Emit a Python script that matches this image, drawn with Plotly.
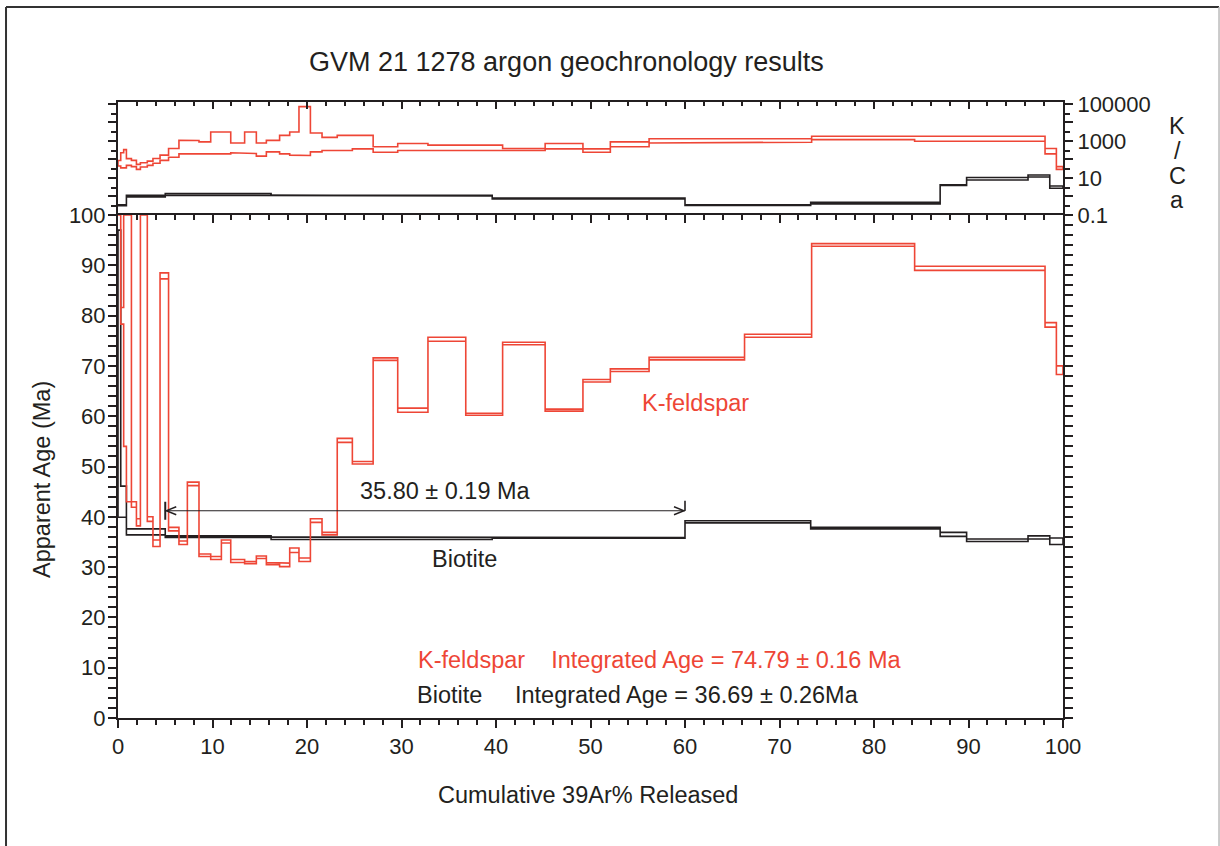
import numpy as np
import plotly.graph_objects as go

# ---------------- data ----------------
# K-feldspar step edges (cumulative 39Ar %)
kf_edges = [0, 0.29, 0.6, 0.89, 1.42, 1.95, 2.37, 3.1, 3.7, 4.45, 5.35, 6.45, 7.34, 8.57,
            9.81, 10.94, 11.93, 13.4, 14.64, 15.7, 17.1, 18.17, 19.15, 20.36, 21.59, 23.2,
            24.8, 27.0, 29.6, 32.8, 36.8, 40.7, 45.2, 49.2, 52.1, 56.2, 66.3, 73.4, 84.3,
            98.1, 99.3, 100]
# apparent age envelope (Ma), lower and upper
kf_age_lo = [101, 78.3, 54.0, 43.0, 41.9, 38.2, 101, 39.1, 34.1, 87.3, 37.2, 34.5, 46.2, 32.1,
             31.5, 34.8, 30.9, 30.7, 31.7, 30.5, 30.1, 32.9, 31.1, 38.9, 36.4, 54.8, 50.5,
             71.1, 60.8, 74.9, 60.2, 74.2, 61.0, 66.8, 68.9, 71.2, 75.7, 93.8, 89.0, 77.7, 68.3]
kf_age_hi = [110, 81.6, 110, 110, 43.0, 39.6, 110, 40.0, 35.4, 88.5, 37.9, 35.2, 46.9, 32.6,
             32.1, 35.4, 31.5, 31.1, 32.2, 30.9, 30.8, 33.8, 31.8, 39.6, 36.9, 55.6, 51.0,
             71.6, 61.6, 75.7, 60.6, 74.7, 61.4, 67.3, 69.4, 71.7, 76.3, 94.3, 89.8, 78.6, 70.0]
# K/Ca envelope
kf_kca_lo = [44, 35, 35, 48, 41, 29, 39, 48, 62, 89, 132, 200, 200, 200, 200, 200, 229, 209,
             151, 257, 200, 170, 162, 257, 302, 302, 372, 245, 302, 302, 302, 302, 372, 245,
             479, 776, 851, 1175, 955, 200, 29]
kf_kca_hi = [88, 229, 339, 110, 89, 54, 66, 81, 112, 170, 389, 1072, 1047, 891, 3020, 3020,
             776, 3020, 776, 1072, 1995, 3020, 70795, 2692, 1549, 1995, 1995, 479, 724, 589,
             589, 389, 724, 372, 891, 1318, 1318, 1778, 1778, 389, 41]

# Biotite
bt_edges = [0, 0.29, 0.89, 5.0, 16.2, 39.6, 60.0, 73.3, 87.0, 89.8, 96.3, 98.6, 100]
bt_age_lo = [39.9, 39.9, 36.4, 35.9, 35.5, 35.75, 38.8, 37.6, 36.1, 35.1, 35.6, 34.5]
bt_age_hi = [97.0, 46.1, 37.6, 36.2, 36.0, 35.85, 39.2, 37.9, 36.9, 35.6, 36.2, 35.8]
bt_kca_lo = [0.32, 0.32, 0.95, 1.17, 1.07, 0.74, 0.33, 0.39, 3.9, 7.8, 11.2, 2.8]
bt_kca_hi = [0.35, 0.35, 1.17, 1.45, 1.17, 0.81, 0.36, 0.48, 4.3, 10.5, 14.5, 3.7]

# plateau
plateau_start = 5.0
plateau_end = 60.0
plateau_arrow_y = 41.2

age_max = 100

RED = "#EE4636"
BLK = "#231F20"
FONT = "Arial, Liberation Sans, sans-serif"


def box_path(edges, lo, hi, cap=None):
    lo = np.asarray(lo, float)
    hi = np.asarray(hi, float)
    if cap is not None:
        lo = np.minimum(lo, cap)
        hi = np.minimum(hi, cap)
    n = len(lo)
    xs, ys = [], []
    for i in range(n):
        xs += [edges[i], edges[i + 1]]
        ys += [hi[i], hi[i]]
    for i in reversed(range(n)):
        xs += [edges[i + 1], edges[i]]
        ys += [lo[i], lo[i]]
    xs.append(xs[0])
    ys.append(ys[0])
    return xs, ys


fig = go.Figure()

# age spectra
x, y = box_path(bt_edges, bt_age_lo, bt_age_hi, cap=age_max)
fig.add_trace(go.Scatter(x=x, y=y, mode="lines", line=dict(color=BLK, width=1.6),
                         xaxis="x", yaxis="y", hoverinfo="skip"))
x, y = box_path(kf_edges, kf_age_lo, kf_age_hi, cap=age_max)
fig.add_trace(go.Scatter(x=x, y=y, mode="lines", line=dict(color=RED, width=1.6),
                         xaxis="x", yaxis="y", hoverinfo="skip"))

# K/Ca spectra
x, y = box_path(bt_edges, bt_kca_lo, bt_kca_hi)
fig.add_trace(go.Scatter(x=x, y=y, mode="lines", line=dict(color=BLK, width=1.6),
                         xaxis="x2", yaxis="y2", hoverinfo="skip"))
x, y = box_path(kf_edges, kf_kca_lo, kf_kca_hi)
fig.add_trace(go.Scatter(x=x, y=y, mode="lines", line=dict(color=RED, width=1.6),
                         xaxis="x2", yaxis="y2", hoverinfo="skip"))

# plateau arrow line
fig.add_trace(go.Scatter(x=[plateau_start, plateau_end], y=[plateau_arrow_y, plateau_arrow_y],
                         mode="lines", line=dict(color=BLK, width=1.2),
                         xaxis="x", yaxis="y", hoverinfo="skip"))
# dummy trace so that overlay axis exists
fig.add_trace(go.Scatter(x=[None], y=[None], xaxis="x3", yaxis="y", hoverinfo="skip"))

shapes = []
# arrow heads (pixel sized, anchored at plateau ends)
shapes.append(dict(type="path", xref="x", yref="y", xsizemode="pixel", ysizemode="pixel",
                   xanchor=plateau_start, yanchor=plateau_arrow_y,
                   path="M 11,4 L 1,0 L 11,-4", line=dict(color=BLK, width=1.4)))
shapes.append(dict(type="path", xref="x", yref="y", xsizemode="pixel", ysizemode="pixel",
                   xanchor=plateau_end, yanchor=plateau_arrow_y,
                   path="M -11,4 L -1,0 L -11,-4", line=dict(color=BLK, width=1.4)))
shapes.append(dict(type="path", xref="x", yref="y", xsizemode="pixel", ysizemode="pixel",
                   xanchor=plateau_start, yanchor=plateau_arrow_y,
                   path="M 0,9 L 0,-9", line=dict(color=BLK, width=2)))
shapes.append(dict(type="path", xref="x", yref="y", xsizemode="pixel", ysizemode="pixel",
                   xanchor=plateau_end, yanchor=plateau_arrow_y,
                   path="M 0,0 L 0,10", line=dict(color=BLK, width=1.6)))
# outer frame
shapes.append(dict(type="line", xref="paper", yref="paper", x0=-0.1185, x1=-0.1185,
                   y0=-0.4, y1=1.1542, line=dict(color="#333333", width=2)))
shapes.append(dict(type="line", xref="paper", yref="paper", x0=-0.1185, x1=1.1651,
                   y0=1.1542, y1=1.1542, line=dict(color="#333333", width=2)))
shapes.append(dict(type="line", xref="paper", yref="paper", x0=1.1651, x1=1.1651,
                   y0=-0.4, y1=1.1542, line=dict(color="#BBBBBB", width=1.5)))


def txt(text, x, y, ref="paper", size=23.5, color=BLK, xanchor="center", angle=0):
    xr, yr = ("x", "y") if ref == "data" else ("paper", "paper")
    return dict(text=text, xref=xr, yref=yr, x=x, y=y, showarrow=False,
                xanchor=xanchor, yanchor="middle", textangle=angle,
                font=dict(size=size, color=color))


def px_x(px):
    return (px - 118) / 945


def px_y(py):
    return (718 - py) / 616


ann = []
ann.append(txt("GVM 21 1278 argon geochronology results", px_x(566), px_y(62), size=27))
ann.append(txt("Cumulative 39Ar% Released", px_x(588), px_y(795)))
ann.append(txt("Apparent Age (Ma)", px_x(42), px_y(480), angle=-90))
for ch, py in zip(["K", "/", "C", "a"], [126, 151, 176, 200]):
    ann.append(txt(ch, px_x(1177), px_y(py)))
ann.append(txt("35.80 ± 0.19 Ma", 34.66, 45.2, ref="data"))
ann.append(txt("K-feldspar", 55.2, 62.7, ref="data", color=RED, xanchor="left"))
ann.append(txt("Biotite", 36.7, 31.7, ref="data"))
ann.append(txt("K-feldspar\u00a0\u00a0\u00a0\u00a0Integrated Age = 74.79 ± 0.16 Ma", 31.55, 11.6,
               ref="data", color=RED, xanchor="left"))
ann.append(txt("Biotite\u00a0\u00a0\u00a0\u00a0\u00a0Integrated Age = 36.69 ± 0.26Ma", 31.4, 4.6,
               ref="data", xanchor="left"))

axis_common = dict(showgrid=False, zeroline=False, showline=True, linewidth=2,
                   linecolor=BLK, tickcolor=BLK)

split = (718 - 215) / 616

fig.update_layout(
    width=1220, height=846,
    margin=dict(l=118, r=157, t=102, b=128),
    paper_bgcolor="white", plot_bgcolor="white", showlegend=False,
    font=dict(family=FONT, size=22, color=BLK),
    xaxis=dict(domain=[0, 1], anchor="y", range=[0, 100], tick0=0, dtick=10,
               ticks="outside", ticklen=8, tickwidth=2,
               minor=dict(dtick=2, tick0=0, ticks="outside", ticklen=5, tickwidth=1.5,
                          tickcolor=BLK, showgrid=False),
               tickfont=dict(size=22), **axis_common),
    xaxis3=dict(overlaying="x", anchor="y", side="top", range=[0, 100], tick0=0, dtick=10,
                ticks="inside", ticklen=8, tickwidth=2, showticklabels=False,
                minor=dict(dtick=2, tick0=0, ticks="inside", ticklen=5, tickwidth=1.5,
                           tickcolor=BLK, showgrid=False),
                **axis_common),
    xaxis2=dict(domain=[0, 1], anchor="y2", side="top", range=[0, 100], tick0=0, dtick=10,
                ticks="inside", ticklen=7, tickwidth=2, showticklabels=False,
                minor=dict(dtick=2, tick0=0, ticks="inside", ticklen=4, tickwidth=1.5,
                           tickcolor=BLK, showgrid=False),
                **axis_common),
    yaxis=dict(domain=[0, split], anchor="x", range=[0, 100], tick0=0, dtick=10,
               ticks="outside", ticklen=8, tickwidth=2, mirror="allticks",
               ticklabelstandoff=-2,
               minor=dict(dtick=2, tick0=0, ticks="outside", ticklen=5, tickwidth=1.5,
                          tickcolor=BLK, showgrid=False),
               tickfont=dict(size=22), **axis_common),
    yaxis2=dict(domain=[split, 1], anchor="x2", type="log", range=[-1, 5.1], side="right",
                tickvals=[0.1, 1, 10, 100, 1000, 10000, 100000],
                ticktext=["0.1", "", "10", "", "1000", "", "100000"],
                ticks="outside", ticklen=8, tickwidth=2, mirror="allticks",
                minor=dict(tickvals=[v * 3 for v in [0.1, 1, 10, 100, 1000, 10000]],
                           ticks="outside", ticklen=5, tickwidth=1.5, tickcolor=BLK),
                tickfont=dict(size=22), **axis_common),
    shapes=shapes,
    annotations=ann,
)

fig.write_html("out.html")
